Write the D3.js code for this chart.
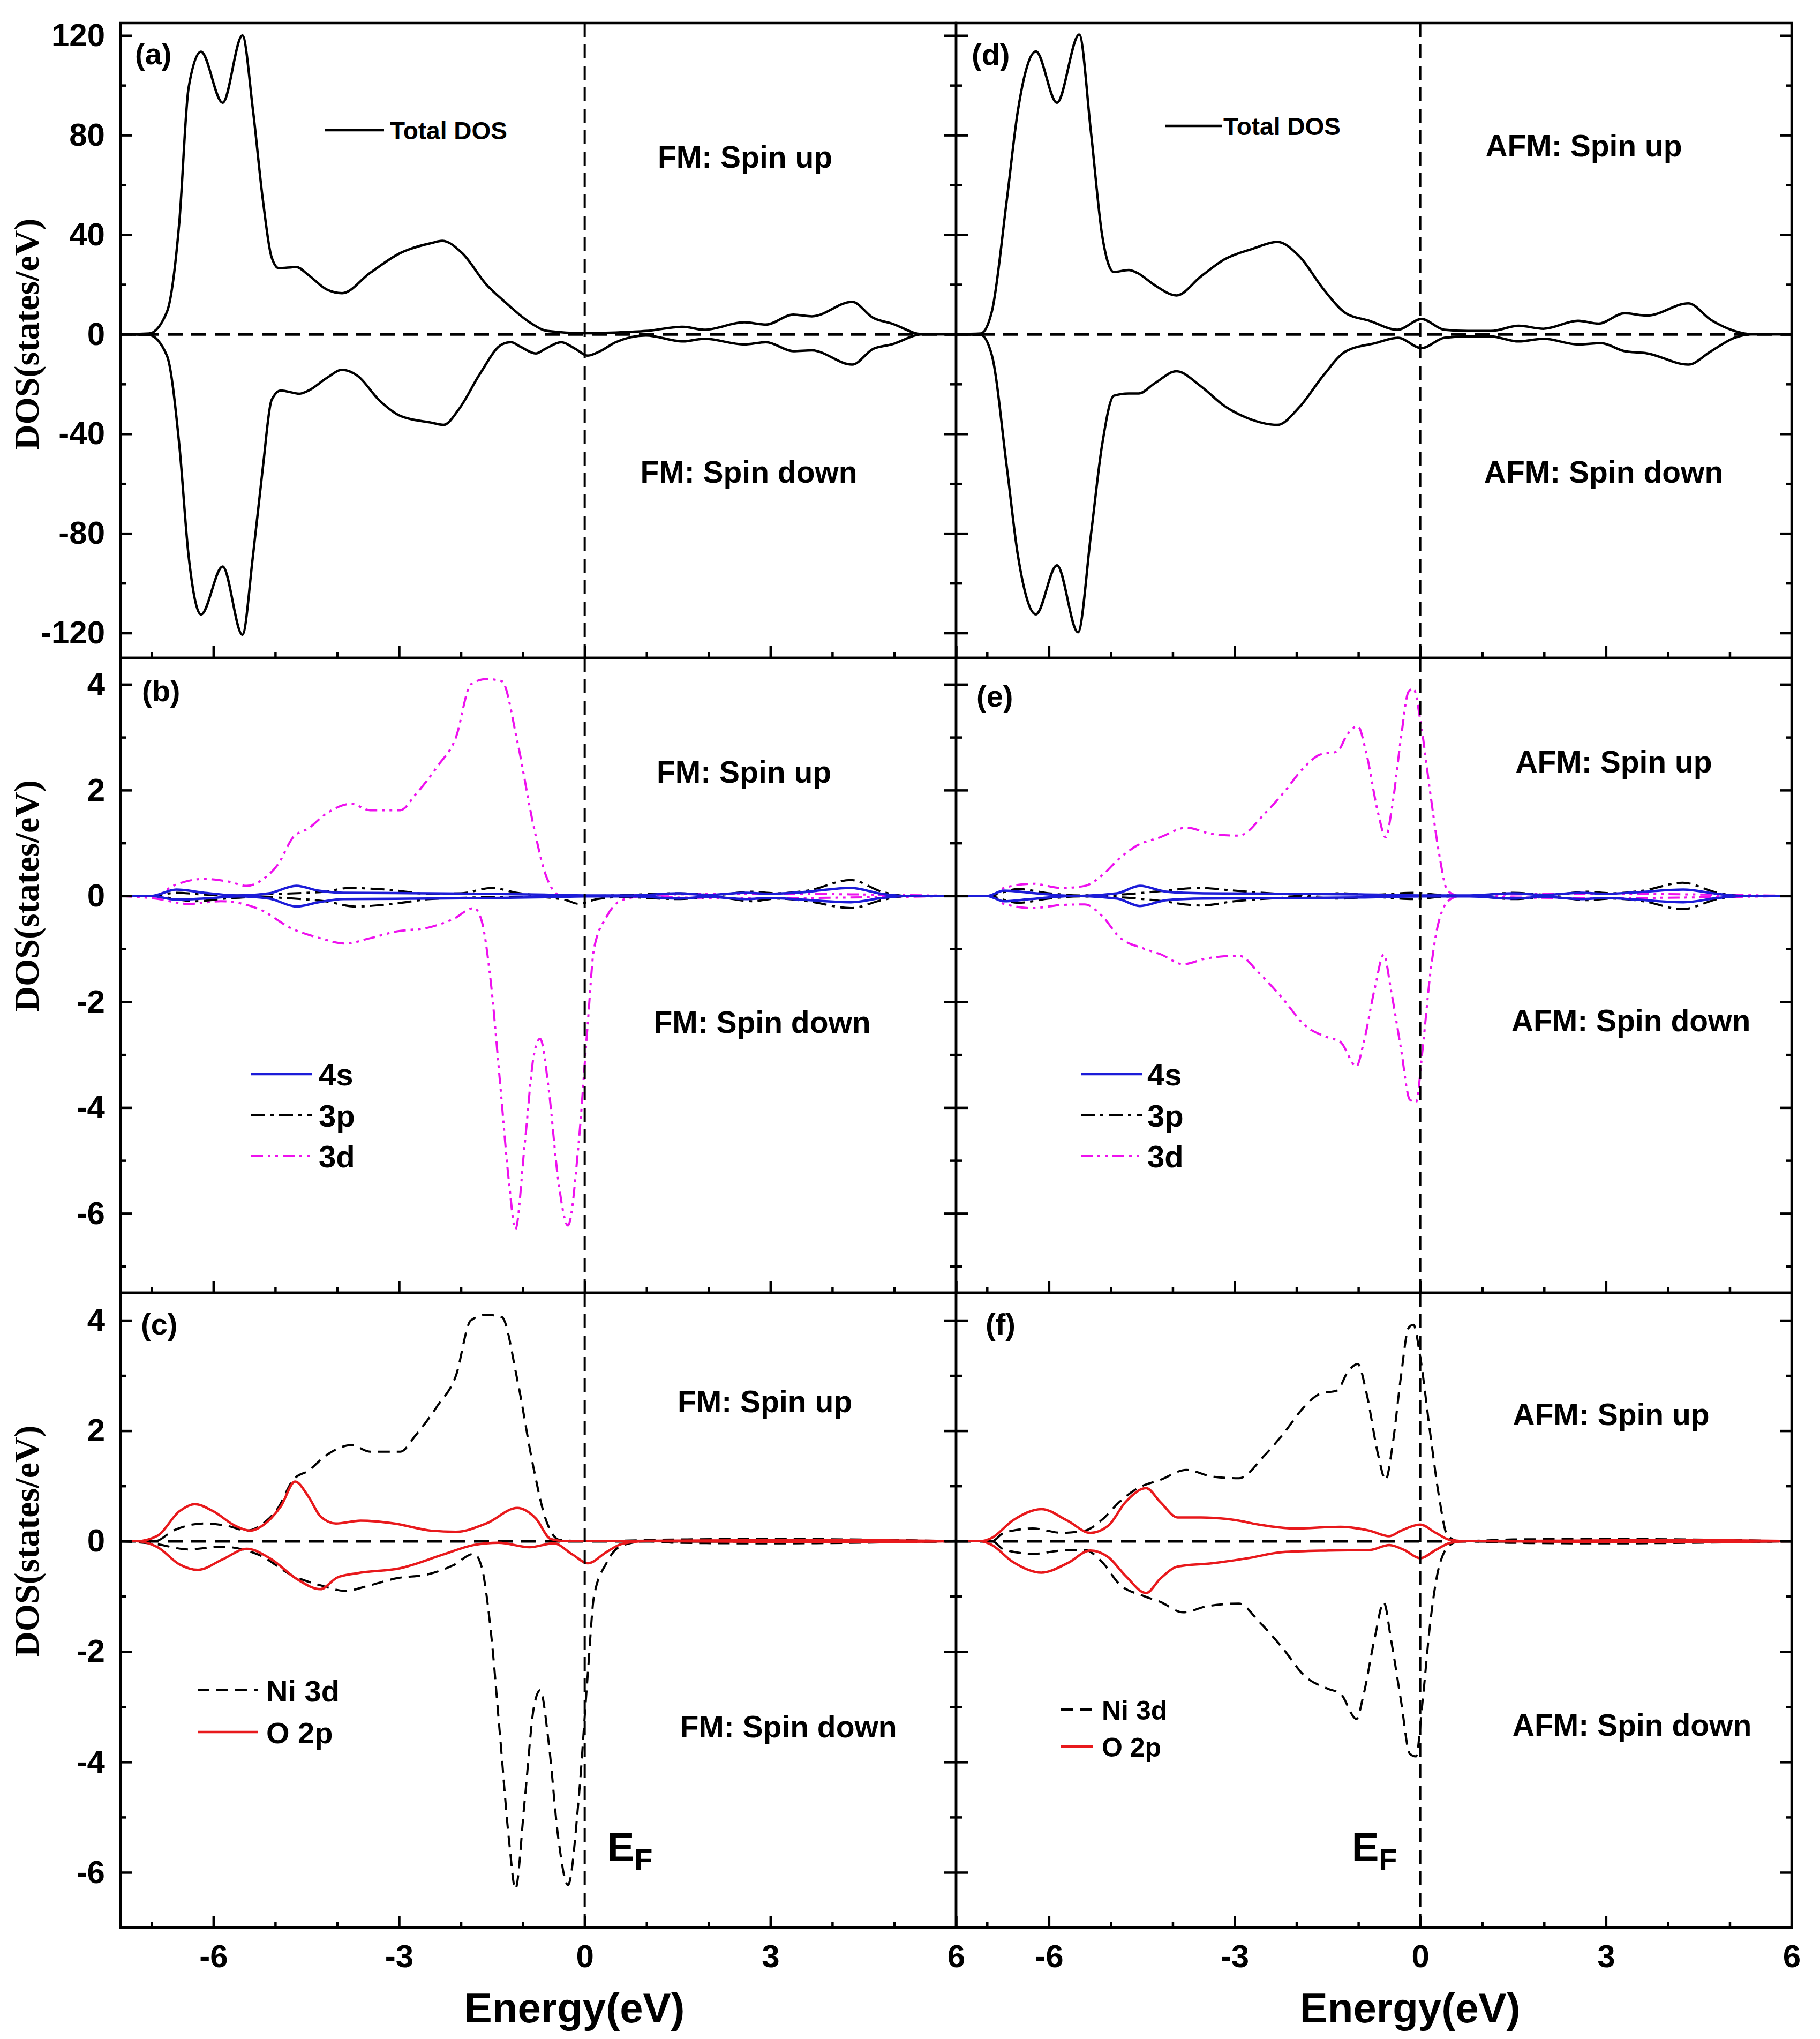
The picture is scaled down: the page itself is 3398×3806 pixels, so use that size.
<!DOCTYPE html>
<html>
<head>
<meta charset="utf-8">
<script src="https://cdn.jsdelivr.net/npm/d3@7"></script>
<style>
    body { margin: 0; background: #fff; }
    svg { display: block; }
    text { font-family: "Liberation Sans", Arial, sans-serif; font-weight: bold; fill: #000; }
    .y-title { font-family: "Liberation Serif", "Times New Roman", serif; }
</style>
</head>
<body>
<div id="chart"></div>
<script>
// ---- data: [energy (eV), DOS] ----
const totalFmUp = [[-7.5,0],[-7.04,0.3],[-6.75,9],[-6.55,45],[-6.4,99],[-6.2,113.5],[-5.85,93],[-5.53,120],[-5.36,90],[-5.2,54],[-5.06,31],[-4.94,26.5],[-4.66,27],[-4.46,23.7],[-4.17,18],[-3.92,16.5],[-3.47,24.6],[-2.98,32.6],[-2.48,36.6],[-2.3,37.5],[-1.98,32.6],[-1.59,20],[-1.29,13],[-0.89,4.8],[-0.6,1.3],[0,0.4],[0.5,0.7],[0.99,1.3],[1.59,3],[1.93,1.8],[2.58,4.8],[2.93,3.9],[3.37,7.9],[3.67,7.2],[4.32,13],[4.66,6.6],[4.96,4.3],[5.46,0],[6,0]];
const totalFmDn = [[-7.5,0],[-7.04,-0.3],[-6.75,-8.6],[-6.55,-44.5],[-6.4,-89],[-6.2,-112.6],[-5.85,-93.3],[-5.53,-120.7],[-5.36,-89],[-5.2,-53.5],[-5.06,-26.5],[-4.91,-22.6],[-4.61,-23.9],[-4.46,-22.6],[-4.17,-17.6],[-3.92,-14.3],[-3.67,-16.7],[-3.32,-26.5],[-2.98,-32.8],[-2.48,-35.5],[-2.28,-36.4],[-2.03,-30],[-1.69,-15.8],[-1.34,-4.1],[-1.19,-3.2],[-1.04,-5],[-0.79,-7.7],[-0.64,-5.9],[-0.38,-3.2],[-0.15,-5.9],[0.05,-8.6],[0.25,-6.8],[0.5,-3.2],[0.99,-0.5],[1.59,-2.9],[1.93,-1.8],[2.58,-4.1],[2.93,-3.2],[3.37,-6.8],[3.67,-6.5],[4.32,-12.2],[4.66,-5.9],[4.96,-4.1],[5.46,0],[6,0]];
const totalAfmUp = [[-7.5,0],[-7.1,0.3],[-6.92,9.3],[-6.68,54],[-6.5,90],[-6.21,113.6],[-5.87,93],[-5.51,120.4],[-5.32,81],[-5.14,39.8],[-4.95,25],[-4.71,25.8],[-4.57,24.6],[-4.29,19.7],[-3.94,15.6],[-3.54,23.3],[-3.17,30],[-2.7,34.4],[-2.31,37.1],[-1.95,31.2],[-1.57,18.3],[-1.2,8.4],[-0.82,5.4],[-0.37,1.8],[0.02,6.1],[0.39,1.8],[0.77,1.3],[1.14,1.3],[1.59,3.4],[1.99,2.2],[2.55,5.4],[2.88,4.3],[3.3,8.4],[3.67,7.5],[4.33,12.4],[4.7,5.7],[5.08,1.3],[5.36,0],[6,0]];
const totalAfmDn = [[-7.5,0],[-7.1,-0.3],[-6.92,-8.6],[-6.68,-53.4],[-6.5,-89],[-6.21,-112.5],[-5.87,-92.8],[-5.53,-119.7],[-5.32,-80.3],[-5.14,-44.4],[-4.95,-24.7],[-4.71,-23.8],[-4.55,-23.8],[-4.29,-19.7],[-3.94,-14.9],[-3.54,-21],[-3.17,-28.7],[-2.79,-33.7],[-2.31,-36.4],[-1.95,-29.2],[-1.57,-16.7],[-1.2,-6.8],[-0.73,-3.6],[-0.36,-1.4],[0.02,-5.6],[0.39,-1.4],[0.77,-0.9],[1.14,-0.9],[1.59,-2.9],[1.99,-1.8],[2.55,-4.1],[2.92,-3.6],[3.3,-6.8],[3.67,-7.7],[4.33,-12.2],[4.7,-6.8],[5.08,-1.4],[5.36,0],[6,0]];

const ni3dFmUp = [[-7.5,0],[-6.94,0],[-6.65,0.19],[-6.15,0.32],[-5.75,0.27],[-5.46,0.19],[-5.16,0.35],[-4.96,0.59],[-4.71,1.11],[-4.46,1.28],[-4.17,1.56],[-3.77,1.74],[-3.47,1.62],[-2.98,1.62],[-2.73,1.92],[-2.38,2.45],[-2.08,3.0],[-1.84,4.0],[-1.59,4.1],[-1.34,4.06],[-1.09,2.93],[-0.84,1.4],[-0.64,0.43],[-0.4,0.02],[0,0],[1.5,0.03],[3,0.04],[4.3,0.03],[6,0]];
const ni3dFmDn = [[-7.5,0],[-6.94,-0.05],[-6.4,-0.15],[-5.88,-0.1],[-5.26,-0.25],[-4.71,-0.63],[-4.27,-0.8],[-3.87,-0.9],[-3.47,-0.8],[-3.03,-0.67],[-2.53,-0.6],[-2.13,-0.44],[-1.79,-0.23],[-1.67,-0.45],[-1.52,-1.6],[-1.37,-3.5],[-1.22,-5.45],[-1.12,-6.3],[-0.97,-4.7],[-0.82,-3.0],[-0.72,-2.7],[-0.58,-3.67],[-0.43,-5.35],[-0.27,-6.23],[-0.1,-4.7],[0.05,-2.4],[0.15,-1.0],[0.35,-0.4],[0.6,-0.08],[1,0],[1.5,-0.03],[3,-0.04],[4.3,-0.03],[6,0]];
const ni3dAfmUp = [[-7.5,0],[-6.92,0],[-6.73,0.15],[-6.26,0.23],[-5.79,0.15],[-5.42,0.19],[-5.14,0.39],[-4.86,0.71],[-4.58,0.95],[-4.2,1.11],[-3.78,1.29],[-3.36,1.17],[-2.93,1.14],[-2.51,1.56],[-2.23,1.92],[-1.86,2.45],[-1.62,2.67],[-1.34,2.73],[-1.18,3.05],[-1.01,3.21],[-0.87,2.69],[-0.68,1.56],[-0.56,1.11],[-0.45,1.72],[-0.31,3.0],[-0.19,3.86],[-0.11,3.92],[0,3.33],[0.16,1.96],[0.3,0.83],[0.44,0.1],[0.63,0],[1.5,0.03],[3,0.04],[4.3,0.03],[6,0]];
const ni3dAfmDn = [[-7.5,0],[-6.92,0],[-6.73,-0.15],[-6.26,-0.23],[-5.79,-0.17],[-5.42,-0.16],[-5.14,-0.38],[-4.86,-0.78],[-4.48,-0.99],[-4.2,-1.1],[-3.83,-1.29],[-3.45,-1.18],[-2.93,-1.13],[-2.61,-1.45],[-2.23,-1.93],[-1.86,-2.45],[-1.48,-2.68],[-1.29,-2.76],[-1.03,-3.22],[-0.92,-2.8],[-0.73,-1.72],[-0.59,-1.11],[-0.47,-1.8],[-0.31,-2.9],[-0.17,-3.85],[-0.07,-3.9],[0.04,-2.87],[0.16,-1.49],[0.3,-0.48],[0.49,-0.06],[0.65,0],[1.5,-0.03],[3,-0.04],[4.3,-0.03],[6,0]];

const s4FmUp = [[-7.5,0],[-7.0,0],[-6.6,0.12],[-6.15,0.06],[-5.6,0.01],[-5.1,0.05],[-4.66,0.19],[-4.3,0.1],[-3.9,0.06],[-2.5,0.05],[-1.5,0.04],[-0.5,0.02],[0,0.01],[0.8,0.01],[1.5,0.05],[2.0,0.02],[2.6,0.06],[3.0,0.04],[3.5,0.07],[4.3,0.15],[4.8,0.04],[5.2,0],[6,0]];
const s4FmDn = [[-7.5,0],[-7.0,0],[-6.6,-0.07],[-6.15,-0.05],[-5.6,-0.01],[-5.1,-0.05],[-4.66,-0.2],[-4.3,-0.12],[-3.9,-0.06],[-2.5,-0.05],[-1.5,-0.04],[-0.5,-0.02],[0,-0.01],[0.8,-0.01],[1.5,-0.05],[2.0,-0.02],[2.6,-0.06],[3.0,-0.04],[3.5,-0.07],[4.3,-0.12],[4.8,-0.04],[5.2,0],[6,0]];
const s4AfmUp = [[-7.5,0],[-7.0,0],[-6.73,0.1],[-6.3,0.06],[-5.6,0],[-4.9,0.05],[-4.53,0.19],[-4.1,0.08],[-3.5,0.05],[-2,0.04],[-1,0.03],[0,0.01],[0.8,0.01],[1.5,0.05],[2.0,0.02],[2.6,0.06],[3.0,0.04],[3.5,0.07],[4.25,0.12],[4.8,0.04],[5.2,0],[6,0]];
const s4AfmDn = [[-7.5,0],[-7.0,0],[-6.73,-0.1],[-6.3,-0.06],[-5.6,0],[-4.9,-0.05],[-4.53,-0.19],[-4.1,-0.08],[-3.5,-0.05],[-2,-0.04],[-1,-0.03],[0,-0.01],[0.8,-0.01],[1.5,-0.05],[2.0,-0.02],[2.6,-0.06],[3.0,-0.04],[3.5,-0.07],[4.25,-0.12],[4.8,-0.04],[5.2,0],[6,0]];

const p3FmUp = [[-7.5,0],[-7.0,0],[-6.6,0.06],[-6.2,0.03],[-5.6,0.01],[-5.2,0.03],[-4.7,0.05],[-4.2,0.08],[-3.8,0.15],[-3.2,0.12],[-2.5,0.04],[-2.0,0.05],[-1.5,0.15],[-1.1,0.06],[-0.7,0.01],[0,0],[0.5,0.01],[1.5,0.05],[2.1,0.02],[2.7,0.08],[3.1,0.05],[3.6,0.1],[4.3,0.3],[4.8,0.08],[5.2,0],[6,0]];
const p3FmDn = [[-7.5,0],[-7.0,0],[-6.3,-0.1],[-5.8,-0.05],[-5.3,-0.02],[-4.7,-0.05],[-4.2,-0.1],[-3.7,-0.2],[-3.1,-0.15],[-2.5,-0.06],[-1.8,-0.03],[-1.2,-0.02],[-0.8,-0.02],[-0.3,-0.08],[-0.1,-0.15],[0.2,-0.06],[0.6,-0.02],[1.5,-0.06],[2.1,-0.02],[2.7,-0.1],[3.1,-0.05],[3.6,-0.1],[4.3,-0.23],[4.8,-0.08],[5.2,0],[6,0]];
const p3AfmUp = [[-7.5,0],[-7.0,0],[-6.5,0.13],[-6.0,0.05],[-5.5,0.01],[-4.8,0.03],[-4.3,0.08],[-3.54,0.15],[-3.0,0.1],[-2.3,0.04],[-1.9,0.02],[-1.29,0.05],[-0.8,0.02],[-0.1,0.06],[0.3,0.02],[0.8,0],[1.5,0.06],[2.1,0.02],[2.7,0.08],[3.1,0.05],[3.6,0.1],[4.24,0.25],[4.8,0.06],[5.2,0],[6,0]];
const p3AfmDn = [[-7.5,0],[-7.0,0],[-6.5,-0.13],[-6.0,-0.05],[-5.5,-0.01],[-4.8,-0.03],[-4.3,-0.08],[-3.54,-0.18],[-3.0,-0.1],[-2.3,-0.04],[-1.9,-0.02],[-1.29,-0.05],[-0.8,-0.02],[-0.1,-0.06],[0.3,-0.02],[0.8,0],[1.5,-0.06],[2.1,-0.02],[2.7,-0.08],[3.1,-0.05],[3.6,-0.1],[4.24,-0.25],[4.8,-0.06],[5.2,0],[6,0]];

const o2pFmUp = [[-7.5,0],[-7.24,0],[-6.9,0.1],[-6.55,0.54],[-6.3,0.67],[-6.0,0.54],[-5.65,0.28],[-5.41,0.19],[-5.16,0.32],[-4.91,0.63],[-4.68,1.08],[-4.46,0.8],[-4.27,0.45],[-4.02,0.32],[-3.62,0.37],[-3.08,0.32],[-2.48,0.19],[-2.08,0.17],[-1.59,0.32],[-1.09,0.6],[-0.79,0.41],[-0.55,0.04],[-0.3,0],[1.5,0.01],[4.3,0.02],[6,0]];
const o2pFmDn = [[-7.5,0],[-7.24,0],[-6.9,-0.11],[-6.55,-0.42],[-6.25,-0.52],[-5.85,-0.33],[-5.46,-0.14],[-5.06,-0.33],[-4.66,-0.68],[-4.27,-0.87],[-4.0,-0.66],[-3.67,-0.58],[-2.98,-0.49],[-2.28,-0.24],[-1.79,-0.07],[-1.39,-0.03],[-0.89,-0.11],[-0.5,-0.04],[-0.2,-0.24],[0.05,-0.4],[0.35,-0.2],[0.6,-0.05],[1.0,0],[4.3,-0.02],[6,0]];
const o2pAfmUp = [[-7.5,0],[-7.1,0],[-6.92,0.06],[-6.59,0.37],[-6.12,0.58],[-5.7,0.37],[-5.33,0.15],[-5.04,0.28],[-4.76,0.71],[-4.43,0.96],[-4.2,0.71],[-3.92,0.43],[-3.54,0.43],[-2.98,0.38],[-2.61,0.3],[-2.04,0.23],[-1.29,0.26],[-0.82,0.19],[-0.5,0.09],[-0.31,0.19],[0,0.3],[0.25,0.15],[0.49,0.02],[0.77,0],[4.3,0.02],[6,0]];
const o2pAfmDn = [[-7.5,0],[-7.1,0],[-6.92,-0.07],[-6.59,-0.37],[-6.12,-0.57],[-5.7,-0.4],[-5.33,-0.17],[-5.04,-0.29],[-4.76,-0.63],[-4.43,-0.94],[-4.2,-0.68],[-3.92,-0.46],[-3.36,-0.4],[-2.79,-0.31],[-2.23,-0.2],[-1.48,-0.17],[-0.82,-0.16],[-0.5,-0.07],[-0.26,-0.16],[0,-0.31],[0.25,-0.16],[0.49,-0.03],[0.77,0],[4.3,-0.02],[6,0]];

// ---- ticks ----
const energyTicks = [-6, -3, 0, 3, 6];
const energyMinorTicks = [-7, -5, -4, -2, -1, 1, 2, 4, 5];
const totalTicks = [-120, -80, -40, 0, 40, 80, 120];
const totalMinorTicks = [-100, -60, -20, 20, 60, 100];
const pdosTicks = [-6, -4, -2, 0, 2, 4];
const pdosMinorTicks = [-7, -5, -3, -1, 1, 3];

// ---- layout / styles ----
const W = 3398, H = 3806;
const frame = { left: 225, top: 43, colW: 1560, rowH: 1185 };
const energyDomain = [-7.5, 6];

const styles = {
    total: { stroke: "#000", width: 4.5, dash: null },
    s4:    { stroke: "#1c1cd8", width: 4.5, dash: null },
    p3:    { stroke: "#000", width: 4, dash: "26,10,6,10" },
    d3:    { stroke: "#ee11ee", width: 4, dash: "22,9,5,9,5,9" },
    ni3d:  { stroke: "#000", width: 4, dash: "22,13" },
    o2p:   { stroke: "#e8191c", width: 4.5, dash: null }
};

const panels = [
    { tag: "(a)", col: 0, row: 0, yDomain: [-130, 125], ticks: totalTicks, minor: totalMinorTicks, zero: true,
      series: [["total", totalFmUp], ["total", totalFmDn]], tagPos: [27, 120],
      notes: [["FM: Spin up", 1391, 313], ["FM: Spin down", 1398, 901]],
      legend: { x1: 607, x2: 717, tx: 728, size: 46, rows: [["total", "Total DOS", 243]] } },
    { tag: "(b)", col: 0, row: 1, yDomain: [-7.5, 4.5], ticks: pdosTicks, minor: pdosMinorTicks, zero: false,
      series: [["d3", ni3dFmUp], ["d3", ni3dFmDn], ["p3", p3FmUp], ["p3", p3FmDn], ["s4", s4FmUp], ["s4", s4FmDn]], tagPos: [40, 1309],
      notes: [["FM: Spin up", 1389, 1461], ["FM: Spin down", 1423, 1928]],
      legend: { x1: 469, x2: 583, tx: 595, size: 58, rows: [["s4", "4s", 2005], ["p3", "3p", 2082], ["d3", "3d", 2158]] } },
    { tag: "(c)", col: 0, row: 2, yDomain: [-7, 4.5], ticks: pdosTicks, minor: pdosMinorTicks.filter(d => d > -7), zero: true,
      series: [["ni3d", ni3dFmUp], ["ni3d", ni3dFmDn], ["o2p", o2pFmUp], ["o2p", o2pFmDn]], tagPos: [38, 2491],
      notes: [["FM: Spin up", 1428, 2636], ["FM: Spin down", 1472, 3243]],
      legend: { x1: 369, x2: 481, tx: 497, size: 56, rows: [["ni3d", "Ni 3d", 3155], ["o2p", "O 2p", 3233]] },
      ef: 42 },
    { tag: "(d)", col: 1, row: 0, yDomain: [-130, 125], ticks: totalTicks, minor: totalMinorTicks, zero: true,
      series: [["total", totalAfmUp], ["total", totalAfmDn]], tagPos: [29, 121],
      notes: [["AFM: Spin up", 2957, 292], ["AFM: Spin down", 2994, 901]],
      legend: { x1: 2176, x2: 2282, tx: 2284, size: 46, rows: [["total", "Total DOS", 235]] } },
    { tag: "(e)", col: 1, row: 1, yDomain: [-7.5, 4.5], ticks: pdosTicks, minor: pdosMinorTicks, zero: false,
      series: [["d3", ni3dAfmUp], ["d3", ni3dAfmDn], ["p3", p3AfmUp], ["p3", p3AfmDn], ["s4", s4AfmUp], ["s4", s4AfmDn]], tagPos: [38, 1319],
      notes: [["AFM: Spin up", 3013, 1442], ["AFM: Spin down", 3045, 1925]],
      legend: { x1: 2018, x2: 2132, tx: 2142, size: 58, rows: [["s4", "4s", 2005], ["p3", "3p", 2082], ["d3", "3d", 2158]] } },
    { tag: "(f)", col: 1, row: 2, yDomain: [-7, 4.5], ticks: pdosTicks, minor: pdosMinorTicks.filter(d => d > -7), zero: true,
      series: [["ni3d", ni3dAfmUp], ["ni3d", ni3dAfmDn], ["o2p", o2pAfmUp], ["o2p", o2pAfmDn]], tagPos: [55, 2491],
      notes: [["AFM: Spin up", 3008, 2660], ["AFM: Spin down", 3047, 3240]],
      legend: { x1: 1981, x2: 2040, tx: 2057, size: 50, rows: [["ni3d", "Ni 3d", 3191], ["o2p", "O 2p", 3260]] },
      ef: -128 }
];

const svg = d3.select("#chart").append("svg")
    .attr("width", W)
    .attr("height", H);

svg.append("rect").attr("width", W).attr("height", H).attr("fill", "#fff");

class DosPanel {
    constructor(svg, cfg) {
        this.svg = svg;
        this.cfg = cfg;
        this.initVis();
    }

    initVis() {
        const vis = this;
        const cfg = vis.cfg;

        vis.left = frame.left + cfg.col * frame.colW;
        vis.top = frame.top + cfg.row * frame.rowH;
        vis.width = frame.colW;
        vis.height = frame.rowH;

        vis.x = d3.scaleLinear().domain(energyDomain).range([0, vis.width]);
        vis.y = d3.scaleLinear().domain(cfg.yDomain).range([vis.height, 0]);

        vis.g = vis.svg.append("g")
            .attr("transform", `translate(${vis.left}, ${vis.top})`);

        const clipId = "clip-" + cfg.col + "-" + cfg.row;
        vis.g.append("clipPath").attr("id", clipId)
            .append("rect").attr("width", vis.width).attr("height", vis.height);
        vis.plot = vis.g.append("g").attr("clip-path", `url(#${clipId})`);

        vis.drawAxes();
        vis.drawCurves();
        vis.drawText();
    }

    drawAxes() {
        const vis = this;
        const cfg = vis.cfg;
        const styleAxis = (g, labelSize) => {
            g.select(".domain").remove();
            g.selectAll("line").attr("stroke", "#000").attr("stroke-width", 4.5);
            g.attr("font-family", null).attr("font-size", labelSize);
            g.selectAll("text").attr("fill", "#000");
        };

        // left axis (labels only in the left column)
        vis.g.append("g")
            .call(d3.axisLeft(vis.y).tickValues(cfg.ticks).tickSizeInner(-22).tickSizeOuter(0)
                .tickPadding(29).tickFormat(d => cfg.col === 0 ? String(d) : ""))
            .call(g => styleAxis(g, 60));
        vis.g.append("g")
            .call(d3.axisLeft(vis.y).tickValues(cfg.minor).tickSizeInner(-11).tickSizeOuter(0).tickFormat(""))
            .call(g => styleAxis(g, 60));

        // right axis, ticks inward
        vis.g.append("g").attr("transform", `translate(${vis.width}, 0)`)
            .call(d3.axisRight(vis.y).tickValues(cfg.ticks).tickSizeInner(-22).tickSizeOuter(0).tickFormat(""))
            .call(g => styleAxis(g, 60));
        vis.g.append("g").attr("transform", `translate(${vis.width}, 0)`)
            .call(d3.axisRight(vis.y).tickValues(cfg.minor).tickSizeInner(-11).tickSizeOuter(0).tickFormat(""))
            .call(g => styleAxis(g, 60));

        // bottom axis (labels only on the last row)
        vis.g.append("g").attr("transform", `translate(0, ${vis.height})`)
            .call(d3.axisBottom(vis.x).tickValues(energyTicks).tickSizeInner(-22).tickSizeOuter(0)
                .tickPadding(31).tickFormat(d => cfg.row === 2 ? String(d) : ""))
            .call(g => styleAxis(g, 60));
        vis.g.append("g").attr("transform", `translate(0, ${vis.height})`)
            .call(d3.axisBottom(vis.x).tickValues(energyMinorTicks).tickSizeInner(-11).tickSizeOuter(0).tickFormat(""))
            .call(g => styleAxis(g, 60));

        vis.g.append("rect")
            .attr("width", vis.width)
            .attr("height", vis.height)
            .attr("fill", "none")
            .attr("stroke", "#000")
            .attr("stroke-width", 4.5);
    }

    drawCurves() {
        const vis = this;
        const cfg = vis.cfg;

        if (cfg.zero) {
            vis.plot.append("line")
                .attr("x1", 0).attr("x2", vis.width)
                .attr("y1", vis.y(0)).attr("y2", vis.y(0))
                .attr("stroke", "#000").attr("stroke-width", 5.5)
                .attr("stroke-dasharray", "28,16");
        }

        const line = d3.line()
            .x(d => vis.x(d[0]))
            .y(d => vis.y(d[1]))
            .curve(d3.curveMonotoneX);

        vis.plot.selectAll(".curve")
            .data(cfg.series)
            .enter()
            .append("path")
            .attr("class", "curve")
            .attr("d", d => line(d[1]))
            .attr("fill", "none")
            .attr("stroke", d => styles[d[0]].stroke)
            .attr("stroke-width", d => styles[d[0]].width)
            .attr("stroke-dasharray", d => styles[d[0]].dash)
            .attr("stroke-linejoin", "round");

        // Fermi level
        vis.plot.append("line")
            .attr("x1", vis.x(0)).attr("x2", vis.x(0))
            .attr("y1", 0).attr("y2", vis.height)
            .attr("stroke", "#000").attr("stroke-width", 4)
            .attr("stroke-dasharray", "26,14");
    }

    drawText() {
        const vis = this;
        const cfg = vis.cfg;

        vis.g.append("text")
            .attr("x", cfg.tagPos[0])
            .attr("y", cfg.tagPos[1] - vis.top)
            .attr("font-size", 56)
            .text(cfg.tag);

        cfg.notes.forEach(n => {
            vis.svg.append("text")
                .attr("x", n[1]).attr("y", n[2])
                .attr("text-anchor", "middle")
                .attr("font-size", 57)
                .text(n[0]);
        });

        const lg = cfg.legend;
        lg.rows.forEach(r => {
            const st = styles[r[0]];
            vis.svg.append("line")
                .attr("x1", lg.x1).attr("x2", lg.x2)
                .attr("y1", r[2]).attr("y2", r[2])
                .attr("stroke", st.stroke)
                .attr("stroke-width", st.width)
                .attr("stroke-dasharray", st.dash);
            vis.svg.append("text")
                .attr("x", lg.tx).attr("y", r[2] + lg.size * 0.37)
                .attr("font-size", lg.size)
                .text(r[1]);
        });

        if (cfg.col === 0) {
            vis.svg.append("text")
                .attr("class", "y-title")
                .attr("transform", `translate(72, ${vis.top + vis.y(0)}) rotate(-90)`)
                .attr("text-anchor", "middle")
                .attr("font-size", 66)
                .text("DOS(states/eV)");
        }

        if (cfg.row === 2) {
            vis.svg.append("text")
                .attr("x", vis.left + vis.x(0) - 19)
                .attr("y", 3775)
                .attr("text-anchor", "middle")
                .attr("font-size", 78)
                .text("Energy(eV)");

            const ef = vis.g.append("text")
                .attr("x", vis.x(0) + cfg.ef)
                .attr("y", vis.y(-5.8))
                .attr("font-size", 76);
            ef.append("tspan").text("E");
            ef.append("tspan").attr("dy", 16).attr("font-size", 56).text("F");
        }
    }
}

panels.forEach(p => new DosPanel(svg, p));
</script>
</body>
</html>
